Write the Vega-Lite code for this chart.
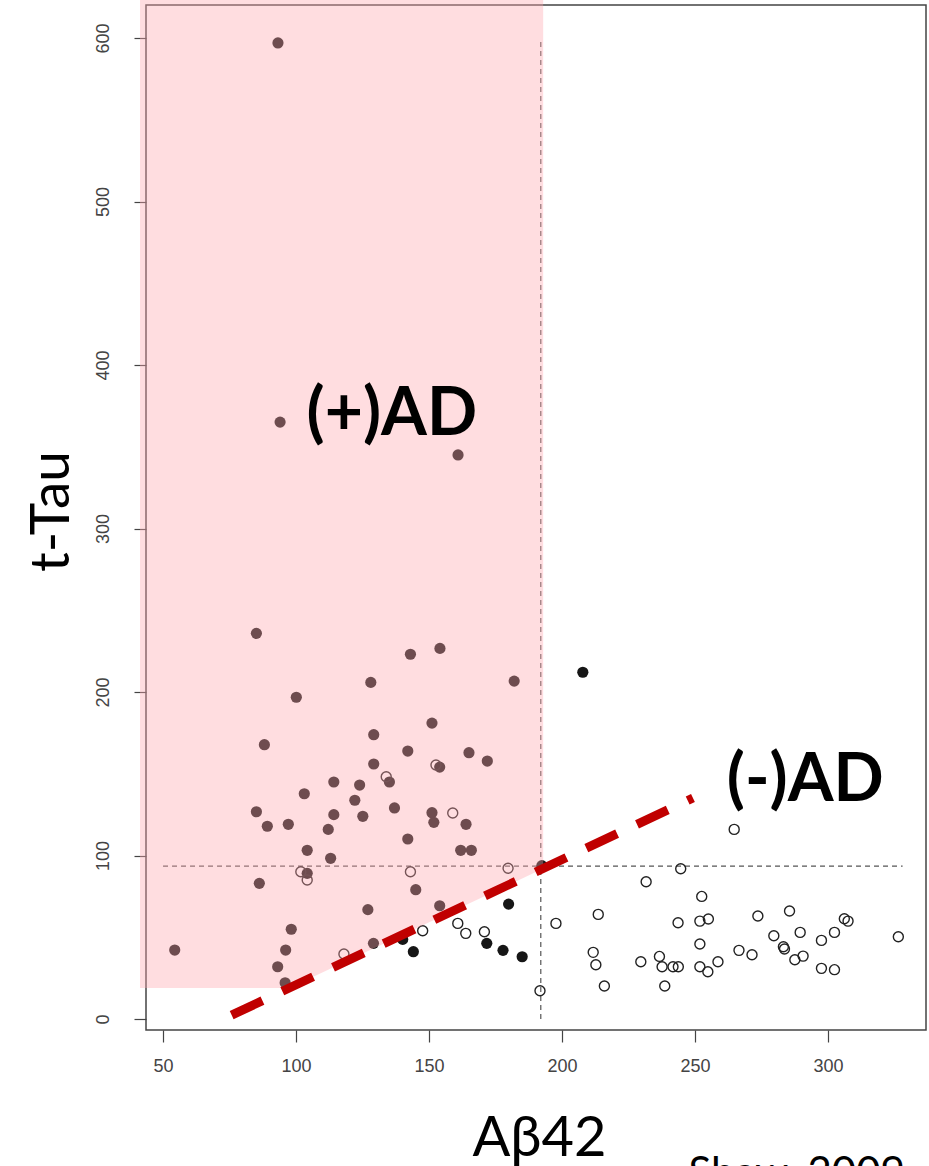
{
  "$schema": "https://vega.github.io/schema/vega-lite/v6.json",
  "width": 780,
  "height": 1025,
  "autosize": {"type": "none"},
  "padding": {"left": 146, "top": 5, "right": 3, "bottom": 136},
  "background": "white",
  "view": {"stroke": "#444", "strokeWidth": 1.5},
  "config": {
    "axis": {
      "labelFont": "Liberation Sans Narrow, Liberation Sans",
      "labelFontSize": 18,
      "labelColor": "#444",
      "tickColor": "#444",
      "tickSize": 12,
      "tickWidth": 1.2,
      "domain": false,
      "grid": false,
      "titleFont": "Lato",
      "titleFontWeight": "normal",
      "titleColor": "#000"
    }
  },
  "datasets": {
    "points": [
      {"abeta42": 85.1, "ttau": 235.9, "group": "AD"},
      {"abeta42": 154.1, "ttau": 226.7, "group": "AD"},
      {"abeta42": 143.0, "ttau": 223.1, "group": "AD"},
      {"abeta42": 128.1, "ttau": 205.9, "group": "AD"},
      {"abeta42": 182.0, "ttau": 206.7, "group": "AD"},
      {"abeta42": 100.1, "ttau": 196.8, "group": "AD"},
      {"abeta42": 151.1, "ttau": 181.0, "group": "AD"},
      {"abeta42": 129.2, "ttau": 173.9, "group": "AD"},
      {"abeta42": 88.1, "ttau": 167.8, "group": "AD"},
      {"abeta42": 142.0, "ttau": 163.9, "group": "AD"},
      {"abeta42": 165.0, "ttau": 162.9, "group": "AD"},
      {"abeta42": 171.9, "ttau": 157.8, "group": "AD"},
      {"abeta42": 129.2, "ttau": 156.0, "group": "AD"},
      {"abeta42": 154.0, "ttau": 154.1, "group": "AD"},
      {"abeta42": 135.1, "ttau": 145.0, "group": "AD"},
      {"abeta42": 114.2, "ttau": 145.0, "group": "AD"},
      {"abeta42": 123.9, "ttau": 143.1, "group": "AD"},
      {"abeta42": 103.1, "ttau": 137.8, "group": "AD"},
      {"abeta42": 122.1, "ttau": 133.8, "group": "AD"},
      {"abeta42": 137.0, "ttau": 129.1, "group": "AD"},
      {"abeta42": 85.1, "ttau": 126.8, "group": "AD"},
      {"abeta42": 114.2, "ttau": 125.0, "group": "AD"},
      {"abeta42": 125.1, "ttau": 124.0, "group": "AD"},
      {"abeta42": 151.1, "ttau": 126.2, "group": "AD"},
      {"abeta42": 151.8, "ttau": 120.3, "group": "AD"},
      {"abeta42": 89.2, "ttau": 117.9, "group": "AD"},
      {"abeta42": 97.1, "ttau": 119.1, "group": "AD"},
      {"abeta42": 163.9, "ttau": 119.1, "group": "AD"},
      {"abeta42": 112.1, "ttau": 116.0, "group": "AD"},
      {"abeta42": 142.0, "ttau": 110.1, "group": "AD"},
      {"abeta42": 104.2, "ttau": 103.2, "group": "AD"},
      {"abeta42": 161.9, "ttau": 103.2, "group": "AD"},
      {"abeta42": 165.9, "ttau": 103.2, "group": "AD"},
      {"abeta42": 113.0, "ttau": 98.3, "group": "AD"},
      {"abeta42": 104.2, "ttau": 89.1, "group": "AD"},
      {"abeta42": 192.4, "ttau": 93.8, "group": "AD"},
      {"abeta42": 86.2, "ttau": 83.0, "group": "AD"},
      {"abeta42": 145.0, "ttau": 79.1, "group": "AD"},
      {"abeta42": 154.0, "ttau": 69.3, "group": "AD"},
      {"abeta42": 179.9, "ttau": 70.3, "group": "AD"},
      {"abeta42": 127.0, "ttau": 66.9, "group": "AD"},
      {"abeta42": 98.2, "ttau": 54.9, "group": "AD"},
      {"abeta42": 171.7, "ttau": 46.3, "group": "AD"},
      {"abeta42": 177.8, "ttau": 42.0, "group": "AD"},
      {"abeta42": 185.0, "ttau": 38.1, "group": "AD"},
      {"abeta42": 144.1, "ttau": 41.2, "group": "AD"},
      {"abeta42": 140.1, "ttau": 48.7, "group": "AD"},
      {"abeta42": 129.1, "ttau": 46.3, "group": "AD"},
      {"abeta42": 54.4, "ttau": 42.2, "group": "AD"},
      {"abeta42": 96.1, "ttau": 42.2, "group": "AD"},
      {"abeta42": 93.1, "ttau": 32.0, "group": "AD"},
      {"abeta42": 95.9, "ttau": 22.2, "group": "AD"},
      {"abeta42": 93.2, "ttau": 597.0, "group": "AD"},
      {"abeta42": 94.0, "ttau": 365.1, "group": "AD"},
      {"abeta42": 160.9, "ttau": 345.0, "group": "AD"},
      {"abeta42": 207.8, "ttau": 212.1, "group": "AD"},
      {"abeta42": 152.6, "ttau": 155.4, "group": "control"},
      {"abeta42": 133.9, "ttau": 148.2, "group": "control"},
      {"abeta42": 158.9, "ttau": 126.0, "group": "control"},
      {"abeta42": 101.8, "ttau": 90.1, "group": "control"},
      {"abeta42": 104.2, "ttau": 85.0, "group": "control"},
      {"abeta42": 143.0, "ttau": 90.1, "group": "control"},
      {"abeta42": 179.7, "ttau": 92.2, "group": "control"},
      {"abeta42": 160.8, "ttau": 58.5, "group": "control"},
      {"abeta42": 163.8, "ttau": 52.4, "group": "control"},
      {"abeta42": 170.8, "ttau": 53.4, "group": "control"},
      {"abeta42": 147.6, "ttau": 54.0, "group": "control"},
      {"abeta42": 118.0, "ttau": 39.8, "group": "control"},
      {"abeta42": 191.7, "ttau": 17.3, "group": "control"},
      {"abeta42": 197.7, "ttau": 58.5, "group": "control"},
      {"abeta42": 264.7, "ttau": 116.0, "group": "control"},
      {"abeta42": 244.6, "ttau": 91.9, "group": "control"},
      {"abeta42": 231.6, "ttau": 84.0, "group": "control"},
      {"abeta42": 252.5, "ttau": 75.0, "group": "control"},
      {"abeta42": 213.6, "ttau": 64.0, "group": "control"},
      {"abeta42": 243.6, "ttau": 58.9, "group": "control"},
      {"abeta42": 251.8, "ttau": 59.9, "group": "control"},
      {"abeta42": 255.0, "ttau": 61.2, "group": "control"},
      {"abeta42": 273.6, "ttau": 63.0, "group": "control"},
      {"abeta42": 285.5, "ttau": 66.1, "group": "control"},
      {"abeta42": 306.1, "ttau": 61.3, "group": "control"},
      {"abeta42": 307.5, "ttau": 59.9, "group": "control"},
      {"abeta42": 279.6, "ttau": 50.9, "group": "control"},
      {"abeta42": 289.5, "ttau": 53.0, "group": "control"},
      {"abeta42": 297.5, "ttau": 48.1, "group": "control"},
      {"abeta42": 302.4, "ttau": 53.0, "group": "control"},
      {"abeta42": 326.4, "ttau": 50.3, "group": "control"},
      {"abeta42": 251.8, "ttau": 45.9, "group": "control"},
      {"abeta42": 266.5, "ttau": 42.0, "group": "control"},
      {"abeta42": 271.4, "ttau": 39.3, "group": "control"},
      {"abeta42": 283.2, "ttau": 44.2, "group": "control"},
      {"abeta42": 283.6, "ttau": 42.8, "group": "control"},
      {"abeta42": 211.7, "ttau": 40.8, "group": "control"},
      {"abeta42": 236.6, "ttau": 38.3, "group": "control"},
      {"abeta42": 229.6, "ttau": 35.0, "group": "control"},
      {"abeta42": 212.7, "ttau": 33.2, "group": "control"},
      {"abeta42": 237.6, "ttau": 32.0, "group": "control"},
      {"abeta42": 241.7, "ttau": 32.0, "group": "control"},
      {"abeta42": 243.7, "ttau": 32.0, "group": "control"},
      {"abeta42": 251.8, "ttau": 32.0, "group": "control"},
      {"abeta42": 254.8, "ttau": 28.9, "group": "control"},
      {"abeta42": 258.6, "ttau": 35.0, "group": "control"},
      {"abeta42": 287.5, "ttau": 36.3, "group": "control"},
      {"abeta42": 290.6, "ttau": 38.5, "group": "control"},
      {"abeta42": 297.5, "ttau": 31.0, "group": "control"},
      {"abeta42": 302.4, "ttau": 30.2, "group": "control"},
      {"abeta42": 215.9, "ttau": 20.2, "group": "control"},
      {"abeta42": 238.6, "ttau": 20.2, "group": "control"}
    ],
    "zone": [
      {"abeta42": 41.35, "upper": 623.2, "lower": 19.0},
      {"abeta42": 97.5, "upper": 623.2, "lower": 19.0},
      {"abeta42": 192.9, "upper": 623.2, "lower": 92.0}
    ],
    "cutoffs": [
      {"x1": 50, "x2": 328, "y1": 93.5, "y2": 93.5},
      {"x1": 192, "x2": 192, "y1": 0, "y2": 598}
    ],
    "divider": [
      {"abeta42": 75.8, "ttau": 2.4},
      {"abeta42": 249.2, "ttau": 135.2}
    ],
    "regionLabels": [
      {"abeta42": 136.0, "ttau": 357.2, "label": "(+)AD"},
      {"abeta42": 291.4, "ttau": 133.3, "label": "(-)AD"}
    ],
    "source": [
      {"abeta42": 288.2, "ttau": -102.8, "label": "Shaw, 2009"}
    ]
  },
  "layer": [
    {
      "data": {"name": "cutoffs"},
      "mark": {"type": "rule", "color": "#555", "strokeWidth": 1.2, "strokeDash": [5, 4]},
      "encoding": {
        "x": {"field": "x1", "type": "quantitative", "scale": {"domain": [43.6, 336.8], "nice": false, "zero": false},
          "axis": {"values": [50, 100, 150, 200, 250, 300], "labelPadding": 15, "title": "Aβ42", "titleFontSize": 56, "titleX": 393, "titleY": 125, "titleAlign": "center", "titleBaseline": "alphabetic"}},
        "x2": {"field": "x2"},
        "y": {"field": "y1", "type": "quantitative", "scale": {"domain": [-6.7, 620.2], "nice": false, "zero": false},
          "axis": {"values": [0, 100, 200, 300, 400, 500, 600], "labelAngle": 270, "labelAlign": "center", "labelBaseline": "bottom", "labelPadding": 22, "title": "t-Tau", "titleFontSize": 55, "titleX": -78, "titleY": 506, "titleAngle": 270, "titleAlign": "center", "titleBaseline": "alphabetic"}},
        "y2": {"field": "y2"}
      }
    },
    {
      "data": {"name": "points"},
      "transform": [{"filter": "datum.group === 'AD'"}],
      "mark": {"type": "point", "shape": "circle", "filled": true, "color": "#161616", "opacity": 1, "size": 125},
      "encoding": {
        "x": {"field": "abeta42", "type": "quantitative", "scale": {"domain": [43.6, 336.8], "nice": false, "zero": false}},
        "y": {"field": "ttau", "type": "quantitative", "scale": {"domain": [-6.7, 620.2], "nice": false, "zero": false}}
      }
    },
    {
      "data": {"name": "points"},
      "transform": [{"filter": "datum.group === 'control'"}],
      "mark": {"type": "point", "shape": "circle", "filled": false, "color": "#222", "opacity": 1, "strokeWidth": 1.4, "size": 100},
      "encoding": {
        "x": {"field": "abeta42", "type": "quantitative", "scale": {"domain": [43.6, 336.8], "nice": false, "zero": false}},
        "y": {"field": "ttau", "type": "quantitative", "scale": {"domain": [-6.7, 620.2], "nice": false, "zero": false}}
      }
    },
    {
      "data": {"name": "zone"},
      "mark": {"type": "area", "color": "#ffa5ad", "opacity": 0.38, "orient": "vertical"},
      "encoding": {
        "x": {"field": "abeta42", "type": "quantitative", "scale": {"domain": [43.6, 336.8], "nice": false, "zero": false}},
        "y": {"field": "upper", "type": "quantitative", "scale": {"domain": [-6.7, 620.2], "nice": false, "zero": false}},
        "y2": {"field": "lower"}
      }
    },
    {
      "data": {"name": "divider"},
      "mark": {"type": "line", "color": "#c00000", "strokeWidth": 9, "strokeDash": [34, 22], "strokeCap": "butt"},
      "encoding": {
        "x": {"field": "abeta42", "type": "quantitative", "scale": {"domain": [43.6, 336.8], "nice": false, "zero": false}},
        "y": {"field": "ttau", "type": "quantitative", "scale": {"domain": [-6.7, 620.2], "nice": false, "zero": false}}
      }
    },
    {
      "data": {"name": "regionLabels"},
      "mark": {"type": "text", "font": "Lato", "fontWeight": "bold", "fontSize": 66, "align": "center", "baseline": "alphabetic", "color": "#000"},
      "encoding": {
        "x": {"field": "abeta42", "type": "quantitative", "scale": {"domain": [43.6, 336.8], "nice": false, "zero": false}},
        "y": {"field": "ttau", "type": "quantitative", "scale": {"domain": [-6.7, 620.2], "nice": false, "zero": false}},
        "text": {"field": "label"}
      }
    },
    {
      "data": {"name": "source"},
      "mark": {"type": "text", "font": "Lato", "fontSize": 42, "align": "center", "baseline": "alphabetic", "color": "#000"},
      "encoding": {
        "x": {"field": "abeta42", "type": "quantitative", "scale": {"domain": [43.6, 336.8], "nice": false, "zero": false}},
        "y": {"field": "ttau", "type": "quantitative", "scale": {"domain": [-6.7, 620.2], "nice": false, "zero": false}},
        "text": {"field": "label"}
      }
    }
  ]
}
